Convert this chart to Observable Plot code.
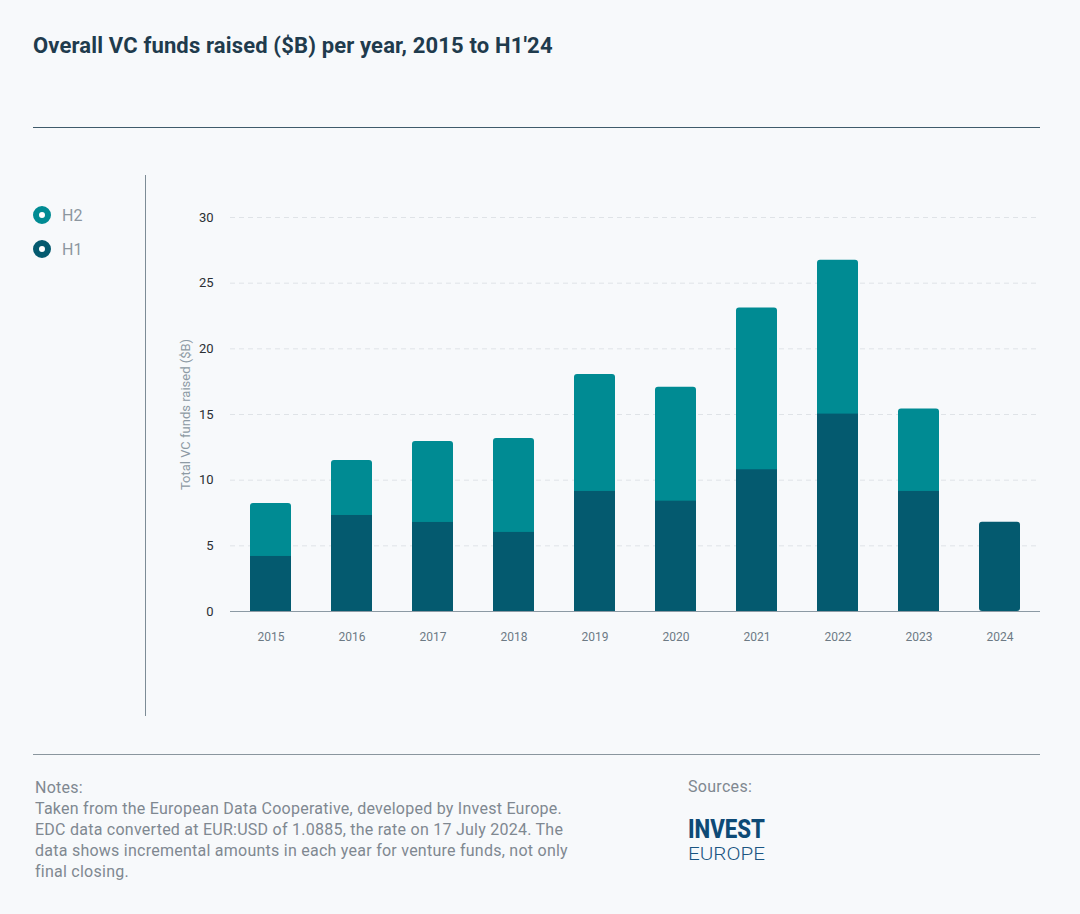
<!DOCTYPE html>
<html>
<head>
<meta charset="utf-8">
<script src="https://cdn.jsdelivr.net/npm/d3@7"></script>
<script src="https://cdn.jsdelivr.net/npm/@observablehq/plot@0.6"></script>
<style>
  html, body { margin: 0; padding: 0; background: #f7f9fb; width: 1080px; height: 914px; overflow: hidden; font-family: Roboto, "Open Sans", sans-serif; }
  #title { position: absolute; left: 33px; top: 33px; font-size: 22px; font-weight: 700; color: #1f3b4d; letter-spacing: 0.15px; }
  .rule { position: absolute; left: 33px; width: 1007px; height: 0; border-top: 1.5px solid #3f5b6b; }
  #vline { position: absolute; left: 145px; top: 175px; width: 0; height: 541px; border-left: 1.5px solid #7d8c96; }
  #legend { position: absolute; left: 33px; top: 198px; }
  .lg { display: flex; align-items: center; height: 34px; font-size: 16px; color: #8c969f; }
  .dot { width: 6px; height: 6px; border-radius: 50%; border: 6px solid; background: #fff; margin-right: 11px; }
  #chart { position: absolute; left: 150px; top: 170px; }
  #notes { position: absolute; left: 35px; top: 777px; font-size: 16px; line-height: 21px; color: #7f8891; letter-spacing: 0.25px; white-space: nowrap; }
  #sources { position: absolute; left: 688px; top: 777px; font-size: 16px; color: #7f8891; letter-spacing: 0.3px; }
  .logo { position: absolute; left: 686px; overflow: visible; }
</style>
</head>
<body>
<div id="title">Overall VC funds raised ($B) per year, 2015 to H1'24</div>
<div class="rule" style="top:127px"></div>
<div id="vline"></div>
<div id="legend"></div>
<div id="chart"></div>
<div class="rule" style="top:754px; border-top-color:#8a969e"></div>
<div id="notes">Notes:<br>Taken from the European Data Cooperative, developed by Invest Europe.<br>EDC data converted at EUR:USD of 1.0885, the rate on 17 July 2024. The<br>data shows incremental amounts in each year for venture funds, not only<br>final closing.</div>
<div id="sources">Sources:</div>
<svg class="logo" style="top:808px" width="100" height="40">
  <text x="2" y="30" font-family="Roboto, sans-serif" font-weight="800" font-size="26" fill="#0e4a76" textLength="77" lengthAdjust="spacingAndGlyphs">INVEST</text>
</svg>
<svg class="logo" style="top:842px" width="100" height="30">
  <text x="2" y="18" font-family="Roboto, sans-serif" font-weight="300" font-size="19" fill="#1a5582" textLength="77" lengthAdjust="spacingAndGlyphs">EUROPE</text>
</svg>
<script>
const years = ["2015","2016","2017","2018","2019","2020","2021","2022","2023","2024"];
const h1 = [4.19, 7.31, 6.78, 6.02, 9.14, 8.40, 10.79, 15.03, 9.14, 6.80];
const h2 = [4.03, 4.19, 6.16, 7.15, 8.91, 8.68, 12.31, 11.72, 6.27, 0];
const series = ["H2", "H1"];
const colors = ["#008b93", "#045a6f"];
const yTicks = [0, 5, 10, 15, 20, 25, 30];

const totals = years.map((y, i) => ({year: y, total: h1[i] + h2[i], top: h2[i] > 0 ? "H2" : "H1"}));
const lower = years.map((y, i) => ({year: y, value: h1[i], series: "H1"})).filter((d, i) => h2[i] > 0);

// legend
const lg = document.getElementById("legend");
series.forEach((s, i) => {
  const row = document.createElement("div");
  row.className = "lg";
  row.innerHTML = `<span class="dot" style="border-color:${colors[i]}"></span>${s}`;
  lg.appendChild(row);
});

const chart = Plot.plot({
  width: 900,
  height: 500,
  marginLeft: 80,
  marginRight: 10,
  marginTop: 47,
  marginBottom: 59,
  style: {background: "transparent", fontFamily: "Roboto, sans-serif"},
  x: {domain: years, paddingInner: 0.5, paddingOuter: 0.25, label: null},
  y: {domain: [0, 30], label: null},
  color: {domain: series, range: colors},
  marks: [
    Plot.ruleY(yTicks.filter(d => d > 0), {stroke: "#dfe3e7", strokeDasharray: "5,4", strokeWidth: 1}),
    Plot.barY(totals, {x: "year", y: "total", fill: "top", rx: 3}),
    Plot.barY(lower, {x: "year", y: "value", fill: "series"}),
    Plot.ruleY([0], {stroke: "#8c9aa4", strokeWidth: 1.2}),
    Plot.axisX({tickSize: 0, tickPadding: 21, fontSize: 12, color: "#6d7a85", label: null}),
    Plot.axisY({ticks: yTicks, tickSize: 0, tickPadding: 17, fontSize: 13, color: "#2a2f33", label: null}),
    Plot.text(["Total VC funds raised ($B)"], {frameAnchor: "left", textAnchor: "middle", dx: -45, rotate: -90, fontSize: 13, fill: "#8d9aa4"})
  ]
});
document.getElementById("chart").appendChild(chart);
</script>
</body>
</html>
